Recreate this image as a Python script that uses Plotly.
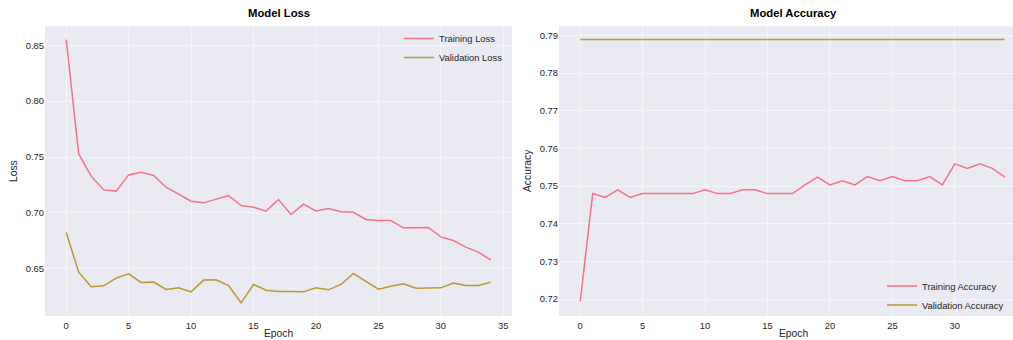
import plotly.graph_objects as go

epochs = list(range(35))
train_loss = [0.855, 0.7528, 0.7329, 0.7206, 0.7195, 0.734, 0.7364, 0.7335, 0.723, 0.7165,
              0.7105, 0.709, 0.712, 0.7156, 0.7066, 0.7051, 0.7016, 0.712, 0.6986, 0.7078,
              0.7018, 0.7039, 0.701, 0.7006, 0.6941, 0.6932, 0.6932, 0.6867, 0.6867, 0.687,
              0.6786, 0.6753, 0.6694, 0.6649, 0.658]
val_loss = [0.6825, 0.647, 0.6339, 0.6348, 0.6417, 0.6455, 0.6378, 0.6381, 0.6315, 0.633,
            0.6294, 0.6399, 0.6402, 0.6351, 0.6196, 0.636, 0.6309, 0.6297, 0.6297, 0.6294,
            0.633, 0.6312, 0.636, 0.6458, 0.6387, 0.6318, 0.6345, 0.6366, 0.6327, 0.6327,
            0.633, 0.6372, 0.6351, 0.6351, 0.6381]
train_acc = [0.7194, 0.748, 0.747, 0.749, 0.747, 0.748, 0.748, 0.748, 0.748, 0.748,
             0.749, 0.748, 0.748, 0.749, 0.749, 0.748, 0.748, 0.748, 0.7503, 0.7524,
             0.7503, 0.7514, 0.7503, 0.7525, 0.7514, 0.7525, 0.7514, 0.7514, 0.7525, 0.7503,
             0.7559, 0.7547, 0.7559, 0.7547, 0.7524]
val_acc = [0.7889] * 35

x_ticks = [0, 5, 10, 15, 20, 25, 30, 35]
loss_ticks = [0.65, 0.70, 0.75, 0.80, 0.85]
acc_ticks = [0.72, 0.73, 0.74, 0.75, 0.76, 0.77, 0.78, 0.79]

W, H = 1013, 340
C_TRAIN = "#f77189"
C_VAL = "#bb9832"
BG = "#eaeaf2"
FONT = "Liberation Sans, Arial, sans-serif"

def px(x):
    return x / W

def py(y):
    return 1 - y / H

fig = go.Figure()
fig.add_trace(go.Scatter(x=epochs, y=train_loss, mode="lines", name="Training Loss",
                         line=dict(color=C_TRAIN, width=1.5), xaxis="x", yaxis="y", legend="legend"))
fig.add_trace(go.Scatter(x=epochs, y=val_loss, mode="lines", name="Validation Loss",
                         line=dict(color=C_VAL, width=1.5), xaxis="x", yaxis="y", legend="legend"))
fig.add_trace(go.Scatter(x=epochs, y=train_acc, mode="lines", name="Training Accuracy",
                         line=dict(color=C_TRAIN, width=1.5), xaxis="x2", yaxis="y2", legend="legend2"))
fig.add_trace(go.Scatter(x=epochs, y=val_acc, mode="lines", name="Validation Accuracy",
                         line=dict(color=C_VAL, width=1.5), xaxis="x2", yaxis="y2", legend="legend2"))

ax_common = dict(showgrid=True, gridcolor="rgba(255,255,255,0.5)", gridwidth=1, zeroline=False,
                 showline=False, ticks="", automargin=False,
                 tickfont=dict(family=FONT, size=9.4, color="#262626"))
ydom = [py(316), py(26)]

fig.update_layout(
    width=W, height=H,
    autosize=False,
    margin=dict(l=0, r=0, t=0, b=0),
    paper_bgcolor="white",
    plot_bgcolor=BG,
    template="none",
    font=dict(family=FONT, color="#262626"),
    xaxis=dict(domain=[px(45), px(512)], range=[-1.7, 35.7], tickvals=x_ticks, anchor="y",
               ticklabelstandoff=3, **ax_common),
    yaxis=dict(domain=ydom, range=[0.6078, 0.8672], tickvals=loss_ticks, tickformat=".2f", anchor="x", **ax_common),
    xaxis2=dict(domain=[px(559), 1.0], range=[-1.7, 34.66], tickvals=x_ticks, anchor="y2",
                ticklabelstandoff=3, **ax_common),
    yaxis2=dict(domain=ydom, range=[0.7155, 0.7925], tickvals=acc_ticks, tickformat=".2f", anchor="x2", **ax_common),
    legend=dict(x=px(399), y=py(24), xanchor="left", yanchor="top", bgcolor="rgba(0,0,0,0)",
                font=dict(family=FONT, size=9.4, color="#262626"), itemwidth=30, tracegroupgap=0),
    legend2=dict(x=px(882), y=py(271.5), xanchor="left", yanchor="top", bgcolor="rgba(0,0,0,0)",
                 font=dict(family=FONT, size=9.4, color="#262626"), itemwidth=30, tracegroupgap=0),
    showlegend=True,
)

annots = [
    dict(text="<b>Model Loss</b>", x=px(278.5), y=py(13), font=dict(size=11.3, color="#000000")),
    dict(text="<b>Model Accuracy</b>", x=px(793), y=py(13), font=dict(size=11.3, color="#000000")),
    dict(text="Epoch", x=px(278.5), y=py(333.5), font=dict(size=10.3)),
    dict(text="Epoch", x=px(793), y=py(333.5), font=dict(size=10.3)),
    dict(text="Loss", x=px(13), y=py(171), textangle=-90, font=dict(size=10.3)),
    dict(text="Accuracy", x=px(527), y=py(171), textangle=-90, font=dict(size=10.3)),
]
for a in annots:
    fig.add_annotation(xref="paper", yref="paper", showarrow=False, xanchor="center", yanchor="middle",
                       **a)

fig.write_html("out.html", config={"displayModeBar": False, "responsive": False},
               post_script="document.documentElement.style.overflow='hidden';"
                           "document.body.style.margin='0';document.body.style.padding='0';"
                           "document.body.style.overflow='hidden';")
